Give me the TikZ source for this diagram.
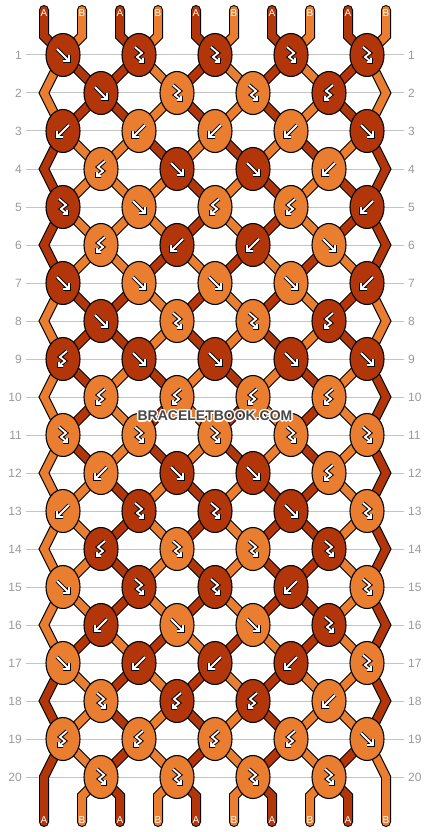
\documentclass[tikz,border=0pt]{standalone}
\usepackage{fontspec}
\setmainfont{Liberation Sans}
\usetikzlibrary{shapes.geometric}

\definecolor{strA}{HTML}{B3360B}
\definecolor{strB}{HTML}{E97D30}
\definecolor{rowgray}{HTML}{9A9A9A}
\definecolor{linegray}{HTML}{C4C4C4}
\definecolor{markgray}{HTML}{474747}

\pgfdeclarelayer{paper}
\pgfdeclarelayer{grid}
\pgfdeclarelayer{outline}
\pgfdeclarelayer{strand}
\pgfsetlayers{paper,grid,outline,strand,main}

\tikzset{
  knot/.style={ellipse, draw=black, line width=1.1pt, minimum width=34pt, minimum height=43pt, inner sep=0pt},
  strout/.style={line width=10pt, black, line cap=round},
  strin/.style={line width=7.8pt, line cap=round},
  glyphout/.style={line width=3.8pt, black, line cap=square},
  glyphin/.style={line width=1.8pt, white, line cap=square},
  gridline/.style={linegray, line width=1pt},
  rownum/.style={text=rowgray, font=\fontsize{12}{12}\selectfont, inner sep=0pt},
  endlabel/.style={text=white, font=\fontsize{10}{10}\selectfont, inner sep=0pt},
  wmark/.style={font=\bfseries\fontsize{14}{14}\selectfont, inner sep=0pt},
  % knot symbols
  pics/gf/.style={code={\foreach \sg in {glyphout,glyphin}
      \draw[\sg] (-6,-6) -- (5,5) (0,6) -- (6,6) -- (6,0);}},
  pics/gb/.style={code={\foreach \sg in {glyphout,glyphin}
      \draw[\sg] (6,-6) -- (-5,5) (0,6) -- (-6,6) -- (-6,0);}},
  pics/gfb/.style={code={\foreach \sg in {glyphout,glyphin}
      \draw[\sg] (-4,-8) -- (3,-2) -- (-2,2) -- (3.2,6.2) (0,7) -- (4,7) -- (4,3);}},
  pics/gbf/.style={code={\foreach \sg in {glyphout,glyphin}
      \draw[\sg] (4,-8) -- (-3,-2) -- (2,2) -- (-3.2,6.2) (0,7) -- (-4,7) -- (-4,3);}},
}

% one string piece: black edge, then its colour
\newcommand\strand[2]{%
  \begin{pgfonlayer}{outline}\draw[strout] #2;\end{pgfonlayer}%
  \begin{pgfonlayer}{strand}\draw[strin, color=str#1] #2;\end{pgfonlayer}}

\begin{document}
\begin{tikzpicture}[x=1pt, y=-1pt]
  \useasboundingbox (0,0) rectangle (430,832);
  \begin{pgfonlayer}{paper}\fill[white] (0,0) rectangle (430,832);\end{pgfonlayer}

  % row numbers and lines
  \foreach \r in {1,...,20}{
    \pgfmathsetmacro\ky{55+38*(\r-1)}
    \node[rownum, anchor=east] (left-\r) at (22,\ky) {\r};
    \node[rownum, anchor=west] (right-\r) at (408,\ky) {\r};
    \begin{pgfonlayer}{grid}
      \draw[gridline, shorten <=3.5pt, shorten >=4pt] (left-\r.east) -- (right-\r.west);
    \end{pgfonlayer}
  }

  % knots: colour/type
  \foreach \r/\row in {
      1/{A/f,A/fb,A/fb,A/fb,A/fb},
      2/{A/f,B/fb,B/fb,A/bf},
      3/{A/b,B/b,B/b,B/b,A/f},
      4/{B/bf,A/f,A/f,B/b},
      5/{A/fb,B/f,B/bf,B/bf,A/b},
      6/{B/bf,A/b,A/b,B/f},
      7/{A/f,B/f,B/f,B/f,A/b},
      8/{A/f,B/fb,B/fb,A/bf},
      9/{A/bf,A/f,A/f,A/f,A/f},
      10/{B/bf,B/bf,B/bf,B/bf},
      11/{B/fb,B/fb,B/fb,B/fb,B/fb},
      12/{B/b,A/f,A/f,B/bf},
      13/{B/b,A/fb,A/fb,A/f,B/fb},
      14/{A/bf,B/fb,B/fb,A/fb},
      15/{B/f,A/fb,A/fb,A/b,B/fb},
      16/{A/b,B/f,B/f,A/fb},
      17/{B/f,A/b,A/b,A/b,B/fb},
      18/{B/fb,A/bf,A/bf,B/b},
      19/{B/bf,B/bf,B/bf,B/bf,B/f},
      20/{B/fb,B/fb,B/fb,B/fb}}{
    \foreach \kc/\kt [count=\i] in \row {
      \pgfmathsetmacro\kx{ifthenelse(mod(\r,2)==1,63,101)+76*(\i-1)}
      \pgfmathsetmacro\ky{55+38*(\r-1)}
      \node[knot, fill=str\kc] (k-\r-\i) at (\kx,\ky) {};
      \pic at (k-\r-\i) {g\kt};
    }
  }

  % strings between rows (colour of each position after row r)
  \foreach \r/\state in {
      1/{B,A,A,B,A,B,A,B,A,B},
      2/{B,A,A,B,A,B,A,B,A,B},
      3/{A,B,B,A,B,A,B,A,B,A},
      4/{A,B,B,B,A,B,A,B,A,A},
      5/{A,B,B,B,A,B,A,B,A,A},
      6/{A,B,B,A,B,A,B,A,B,A},
      7/{B,A,A,B,A,B,A,B,A,B},
      8/{B,A,A,B,A,B,A,B,A,B},
      9/{B,A,B,A,B,A,B,A,B,A},
      10/{B,A,B,A,B,A,B,A,B,A},
      11/{B,A,B,A,B,A,B,A,B,A},
      12/{B,B,A,B,A,B,A,A,B,A},
      13/{B,B,A,B,A,B,A,A,B,A},
      14/{B,B,A,B,A,B,A,A,B,A},
      15/{B,B,A,B,A,B,A,A,B,A},
      16/{B,A,B,A,B,A,B,A,B,A},
      17/{A,B,A,B,A,B,A,B,B,A},
      18/{A,B,A,B,A,B,A,B,B,A},
      19/{A,B,A,B,A,B,A,B,A,B}}{
    \pgfmathtruncatemacro\rn{\r+1}
    \foreach \sc [count=\p] in \state {
      \ifnum\p>1 \ifnum\p<10
        \pgfmathtruncatemacro\ca{ifthenelse(mod(\r,2)==1,(\p+1)/2,\p/2)}
        \pgfmathtruncatemacro\cb{ifthenelse(mod(\r,2)==1,\p/2,(\p+1)/2)}
        \strand{\sc}{(k-\r-\ca.center) -- (k-\rn-\cb.center)}
      \fi\fi
    }
  }

  % edge strings
  \foreach \r/\lc/\rc in {1/B/B,3/A/A,5/A/A,7/B/B,9/B/A,11/B/A,13/B/A,15/B/A,17/A/A}{
    \pgfmathtruncatemacro\rr{\r+2}
    \pgfmathsetmacro\ya{55+38*\r}
    \strand{\lc}{(k-\r-1.center) -- (44,\ya) -- (k-\rr-1.center)}
    \strand{\rc}{(k-\r-5.center) -- (386,\ya) -- (k-\rr-5.center)}
  }

  % loose ends top and bottom
  \foreach \p in {1,...,10}{
    \pgfmathsetmacro\sx{44+38*(\p-1)}
    \pgfmathtruncatemacro\ct{(\p+1)/2}
    \pgfmathtruncatemacro\cbm{\p/2}
    \ifodd\p \def\sc{A}\else \def\sc{B}\fi
    \coordinate (tt-\p) at (\sx,10);
    \coordinate (tb-\p) at (\sx,822);
    \strand{\sc}{(tt-\p) -- (\sx,36) -- (k-1-\ct.center)}
    \ifnum\p=1
      \strand{\sc}{(k-19-1.center) -- (\sx,777) -- (tb-\p)}
    \else\ifnum\p=10
      \strand{\sc}{(k-19-5.center) -- (\sx,777) -- (tb-\p)}
    \else
      \strand{\sc}{(k-20-\cbm.center) -- (\sx,796) -- (tb-\p)}
    \fi\fi
    \node[endlabel] (top-\p) at (\sx,13) {\sc};
    \node[endlabel] (bot-\p) at (\sx,820.5) {\sc};
  }

  % watermark
  \foreach \a in {0,45,...,315}
    \node[wmark, text=white] (halo-\a) at ({215+1.4*cos(\a)},{416+1.4*sin(\a)}) {BRACELETBOOK.COM};
  \node[wmark, text=markgray] (mark) at (215,416) {BRACELETBOOK.COM};
\end{tikzpicture}
\end{document}
